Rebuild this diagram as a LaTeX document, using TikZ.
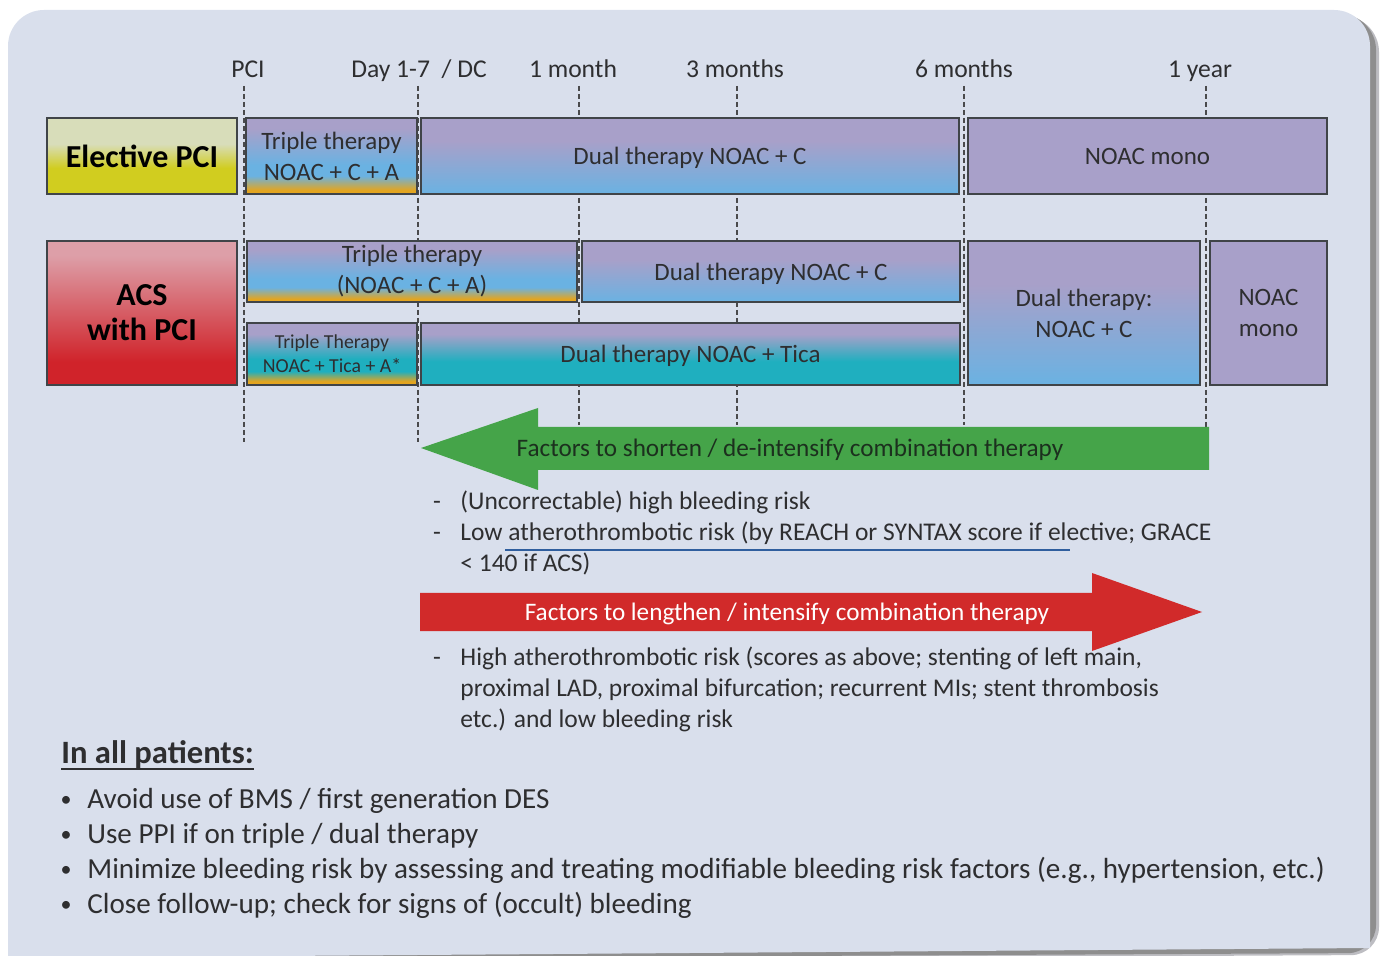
\documentclass[tikz,border=0pt]{standalone}
\usepackage{fontspec}
\setmainfont{Carlito}
\definecolor{bgc}{HTML}{D9DFEC}
\definecolor{shd}{HTML}{8E8E8E}
\definecolor{shd2}{HTML}{BDBDC2}
\definecolor{bline}{HTML}{404448}
\definecolor{txt}{HTML}{2E2E30}
\definecolor{tick}{HTML}{4A4A4C}
\definecolor{cPu}{HTML}{A8A0C9}
\definecolor{cBl}{HTML}{6AB2E2}
\definecolor{cOr}{HTML}{E3A520}
\definecolor{cTe}{HTML}{1FAFBF}
\definecolor{cYe}{HTML}{D1CD1F}
\definecolor{cPaleY}{HTML}{D8DDBA}
\definecolor{cPink}{HTML}{DD9FA8}
\definecolor{cRed}{HTML}{D0232A}
\definecolor{gArr}{HTML}{45A449}
\definecolor{rArr}{HTML}{D12A2A}
\definecolor{gTxt}{HTML}{1C301E}
\definecolor{ulc}{HTML}{2F5E9E}
\pgfdeclareverticalshading{shTriple}{100bp}{color(0bp)=(cOr); color(25bp)=(cOr); color(27.5bp)=(cOr); color(37bp)=(cBl); color(44bp)=(cBl); color(68bp)=(cPu); color(75bp)=(cPu); color(100bp)=(cPu)}
\pgfdeclareverticalshading{shTica}{100bp}{color(0bp)=(cOr); color(25bp)=(cOr); color(28bp)=(cOr); color(36bp)=(cTe); color(46bp)=(cTe); color(66bp)=(cPu); color(75bp)=(cPu); color(100bp)=(cPu)}
\pgfdeclareverticalshading{shDual}{100bp}{color(0bp)=(cBl); color(25bp)=(cBl); color(60bp)=(cPu); color(75bp)=(cPu); color(100bp)=(cPu)}
\pgfdeclareverticalshading{shDualT}{100bp}{color(0bp)=(cTe); color(25bp)=(cTe); color(44bp)=(cTe); color(66bp)=(cPu); color(75bp)=(cPu); color(100bp)=(cPu)}
\pgfdeclareverticalshading{shElect}{100bp}{color(0bp)=(cYe); color(25bp)=(cYe); color(42bp)=(cYe); color(58bp)=(cPaleY); color(75bp)=(cPaleY); color(100bp)=(cPaleY)}
\pgfdeclareverticalshading{shAcs}{100bp}{color(0bp)=(cRed); color(25bp)=(cRed); color(33bp)=(cRed); color(70bp)=(cPink); color(75bp)=(cPink); color(100bp)=(cPink)}
\tikzset{
  bx/.style={draw=bline, line width=0.8pt, inner sep=0pt, align=center, text=txt,
             font=\fontsize{12.5}{15.5}\selectfont},
  onebx/.style={bx, text depth=0pt},
  headbx/.style={bx, font=\fontsize{16}{17.5}\selectfont\bfseries, text=black},
  ticklab/.style={text=txt, inner sep=0pt, anchor=base, font=\fontsize{12.8}{15}\selectfont},
  tickline/.style={draw=tick, line width=1pt, dash pattern=on 2.5pt off 1.5pt},
  lst/.style={text=txt, inner sep=0pt, anchor=base west, font=\fontsize{12.75}{15}\selectfont},
  lstdash/.style={text=txt, inner sep=0pt, anchor=base, font=\fontsize{12.75}{15}\selectfont},
  bot/.style={text=txt, inner sep=0pt, anchor=base west, font=\fontsize{14.55}{17}\selectfont},
  bul/.style={text=txt, inner sep=0pt, anchor=base, font=\fontsize{11}{13}\selectfont},
  arrlab/.style={inner sep=0pt, anchor=base, font=\fontsize{12.6}{15}\selectfont},
}
\begin{document}
\begin{tikzpicture}[x=0.5pt,y=-0.5pt]
\useasboundingbox (0,0) rectangle (1381,956);
% background panel with shadow
\fill[shd2] (16,970) [rounded corners=18pt] -- (16,16) -- (1379,16) [rounded corners=14pt] -- (1379,955) [sharp corners] -- (16,962) -- cycle;
\fill[shd] (14,970) [rounded corners=18pt] -- (14,14) -- (1376,14) [rounded corners=14pt] -- (1376,953) [sharp corners] -- (14,960) -- cycle;
\fill[bgc] (8,970) [rounded corners=18pt] -- (8,10) -- (1370,10) [sharp corners] -- (1370,948) [rounded corners=14pt] -- (8,958) [sharp corners] -- cycle;

% time labels
\node[ticklab] (lPCI) at (248,78) {PCI};
\node[ticklab] (lDay) at (419,78) {Day 1-7 \ / DC};
\node[ticklab] (l1m) at (573,78) {1 month};
\node[ticklab] (l3m) at (735,78) {3 months};
\node[ticklab] (l6m) at (964,78) {6 months};
\node[ticklab] (l1y) at (1200,78) {1 year};

% dashed time lines
\coordinate (t0a) at (244,86);   \coordinate (t0b) at (244,442);
\coordinate (t1a) at (418,86);   \coordinate (t1b) at (418,442);
\coordinate (t2a) at (579,86);   \coordinate (t2b) at (579,425);
\coordinate (t3a) at (737,86);   \coordinate (t3b) at (737,425);
\coordinate (t4a) at (964,86);   \coordinate (t4b) at (964,425);
\coordinate (t5a) at (1206,86);  \coordinate (t5b) at (1206,427);
\foreach \i in {0,...,5} { \draw[tickline] (t\i a) -- (t\i b); }

% row 1 : elective PCI
\node[headbx, shading=shElect, minimum width=95pt, minimum height=38pt] (elect) at (142,156) {Elective PCI};
\node[bx, shading=shTriple, minimum width=85.5pt, minimum height=38pt] (tri1) at (331.5,156) {Triple therapy\\NOAC + C + A};
\node[onebx, shading=shDual, minimum width=269pt, minimum height=38pt] (dual1) at (690,156) {Dual therapy NOAC + C};
\node[bx, fill=cPu, minimum width=179.5pt, minimum height=38pt] (mono1) at (1147.5,156) {NOAC mono};

% rows 2-3 : ACS
\node[headbx, shading=shAcs, minimum width=95pt, minimum height=72pt] (acs) at (142,313) {ACS\\with PCI};
\node[bx, shading=shTriple, minimum width=165pt, minimum height=30.5pt] (tri2) at (412,271.5) {Triple therapy\\(NOAC + C + A)};
\node[onebx, shading=shDual, minimum width=189pt, minimum height=30.5pt] (dual2) at (771,271.5) {Dual therapy NOAC + C};
\node[bx, shading=shTica, minimum width=85pt, minimum height=31pt, font=\fontsize{9.9}{12}\selectfont] (tri3) at (332,354) {Triple Therapy\\NOAC + Tica + A*};
\node[onebx, shading=shDualT, minimum width=269.5pt, minimum height=31pt] (dual3) at (690.5,354) {Dual therapy NOAC + Tica};
\node[bx, shading=shDual, minimum width=116pt, minimum height=72pt] (dual4) at (1084,313) {Dual therapy:\\NOAC + C};
\node[bx, fill=cPu, minimum width=58.5pt, minimum height=72pt] (mono2) at (1268.5,313) {NOAC\\mono};

% green arrow
\coordinate (gTip) at (421,448);
\fill[gArr] (gTip) -- (538,408) -- (538,427) -- (1209,427) -- (1209,470) -- (538,470) -- (538,490) -- cycle;
\node[arrlab, text=gTxt] (gLab) at (790,457) {Factors to shorten / de-intensify combination therapy};

\node[lstdash] (dA) at (437,510) {-};
\node[lst] (sA) at (460,510) {(Uncorrectable) high bleeding risk};
\node[lstdash] (dB) at (437,541) {-};
\node[lst] (sB) at (460,541) {Low atherothrombotic risk (by REACH or SYNTAX score if elective; GRACE};
\node[lst] (sC) at (460,572) {< 140 if ACS)};
\coordinate (ulA) at (505,550); \coordinate (ulB) at (1070,550);
\draw[ulc, line width=0.7pt] (ulA) -- (ulB);

% red arrow
\coordinate (rTip) at (1202,612);
\fill[rArr] (420,593) -- (1092,593) -- (1092,573) -- (rTip) -- (1092,651) -- (1092,631) -- (420,631) -- cycle;
\node[arrlab, text=white] (rLab) at (787,620) {Factors to lengthen / intensify combination therapy};

\node[lstdash] (dD) at (437,665) {-};
\node[lst] (sD) at (460,665) {High atherothrombotic risk (scores as above; stenting of left main,};
\node[lst] (sE) at (460,696) {proximal LAD, proximal bifurcation; recurrent MIs; stent thrombosis};
\node[lst] (sF) at (460,727) {etc.) and low bleeding risk};

% in all patients
\node[text=txt, inner sep=0pt, anchor=base west, font=\fontsize{16.3}{19}\selectfont\bfseries] (head) at (61,763) {In all patients:};
\draw[txt, line width=1pt] ([yshift=-3pt]head.base west) -- ([yshift=-3pt]head.base east);
\node[bul] (b1) at (66,806) {\textbullet};
\node[bot] (p1) at (87,808) {Avoid use of BMS / first generation DES};
\node[bul] (b2) at (66,841) {\textbullet};
\node[bot] (p2) at (87,843) {Use PPI if on triple / dual therapy};
\node[bul] (b3) at (66,876) {\textbullet};
\node[bot] (p3) at (87,878) {Minimize bleeding risk by assessing and treating modifiable bleeding risk factors (e.g., hypertension, etc.)};
\node[bul] (b4) at (66,911) {\textbullet};
\node[bot] (p4) at (87,913) {Close follow-up; check for signs of (occult) bleeding};
\end{tikzpicture}
\end{document}
